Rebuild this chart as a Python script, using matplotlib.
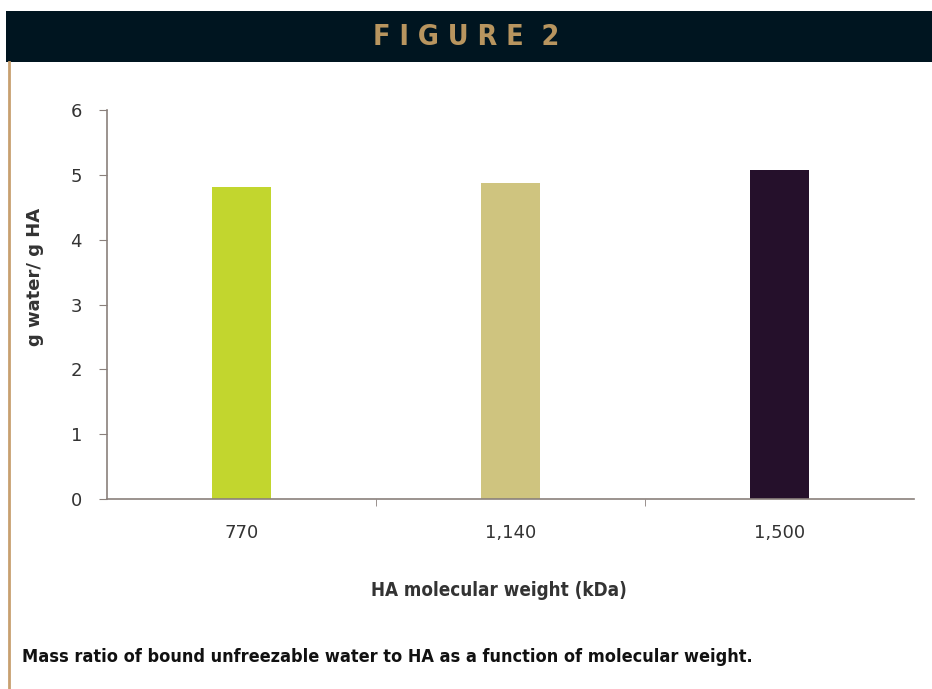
import matplotlib.pyplot as plt
from matplotlib.patches import Rectangle
from matplotlib.lines import Line2D

# Bound unfreezable water per gram of HA, by molecular weight
weights = ["770", "1,140", "1,500"]
ratio = [4.82, 4.88, 5.08]
bar_colors = ["#c2d62e", "#cfc47f", "#25102b"]

W, H = 932, 689
fig = plt.figure(figsize=(W / 100, H / 100), dpi=100)
fig.patch.set_facecolor("white")

narrow = dict(family="DejaVu Sans", stretch="condensed")

# header band and left rule
fig.add_artist(Rectangle((6 / W, 1 - 62 / H), 1, 51 / H, transform=fig.transFigure,
                         facecolor="#001520", edgecolor="none"))
fig.add_artist(Line2D([9 / W, 9 / W], [0, 1 - 62 / H], transform=fig.transFigure,
                      color="#c8a070", lw=2))
fig.text(0.5, 1 - 37 / H, "F I G U R E  2", ha="center", va="center",
         color="#b8955f", fontsize=20.5, fontweight="bold", **narrow)

ax = fig.add_axes([107 / W, 1 - 499 / H, 807 / W, 389 / H])
x = range(len(weights))
ax.bar(x, ratio, width=0.22, color=bar_colors)

ax.set_xlim(-0.5, 2.5)
ax.set_ylim(0, 6)
ax.set_yticks(range(7))
ax.set_xticks(x)
ax.set_xticklabels(weights)
ax.set_xticks([0.5, 1.5], minor=True)

axis_col = "#8a807c"
for side in ["top", "right"]:
    ax.spines[side].set_visible(False)
for side in ["left", "bottom"]:
    ax.spines[side].set_color(axis_col)
    ax.spines[side].set_linewidth(1.2)

ax.tick_params(axis="y", direction="out", length=6, color=axis_col, labelsize=13,
               labelcolor="#333333", pad=12)
ax.tick_params(axis="x", which="major", length=0, labelsize=13,
               labelcolor="#333333", pad=18)
ax.tick_params(axis="x", which="minor", direction="out", length=5, color=axis_col)

fig.text(35 / W, 1 - 277 / H, "g water/ g HA", rotation=90, ha="center", va="center",
         fontsize=13, fontweight="bold", color="#333333")
fig.text(499 / W, 1 - 591 / H, "HA molecular weight (kDa)", ha="center", va="center",
         fontsize=13.5, fontweight="bold", color="#333333", **narrow)

fig.text(22 / W, 1 - 657 / H,
         "Mass ratio of bound unfreezable water to HA as a function of molecular weight.",
         ha="left", va="center", fontsize=13, fontweight="bold", color="#111111",
         **narrow)

fig.savefig("out.png", dpi=100)
